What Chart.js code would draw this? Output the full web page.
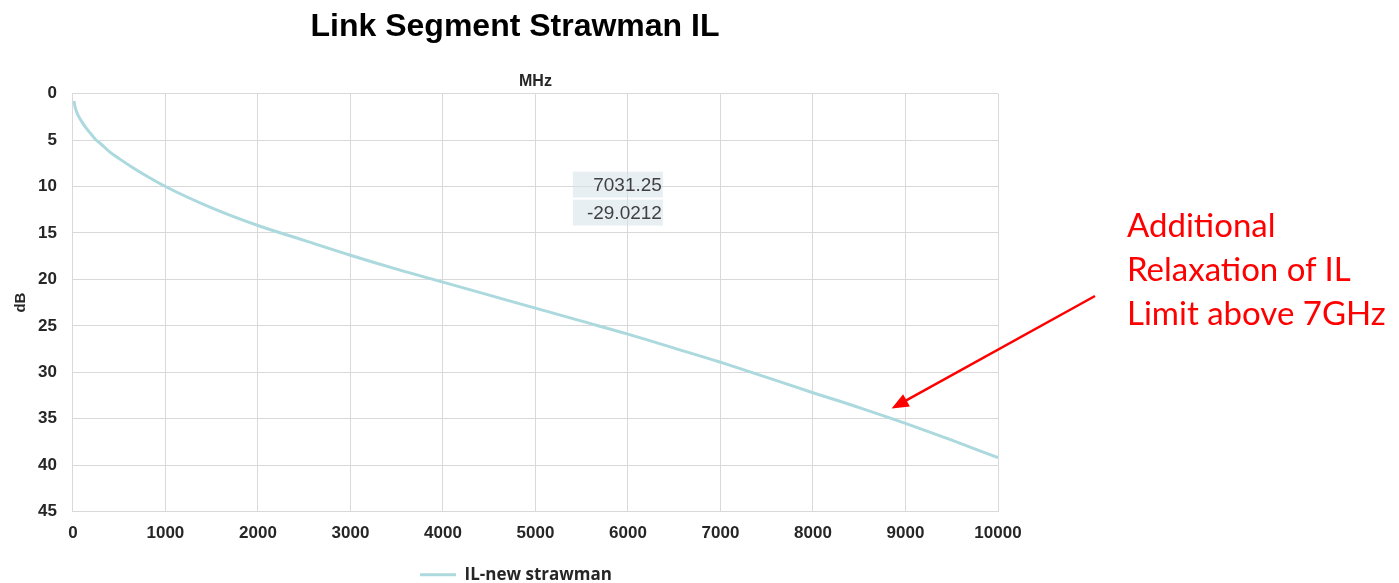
<!DOCTYPE html>
<html>
<head>
<meta charset="utf-8">
<script src="https://cdn.jsdelivr.net/npm/chart.js@4.4.0/dist/chart.umd.min.js"></script>
<style>
  html, body { margin: 0; padding: 0; background: #fff; }
  #wrap { position: relative; width: 1399px; height: 583px; }
  #note {
    position: absolute; left: 1127px; top: 202px;
    font-family: Lato, "Open Sans", sans-serif; font-size: 33px; line-height: 44px;
    color: #ff0000; white-space: nowrap;
  }
</style>
</head>
<body>
<div id="wrap">
  <canvas id="myChartIL" width="1399" height="583"></canvas>
  <div id="note">Additional<br>Relaxation of IL<br>Limit above 7GHz</div>
</div>
<script>
// IL curve (MHz, dB)
var freqMHz = [10, 25, 50, 100, 150, 200, 250, 300, 400, 500, 636, 750, 1000, 1500, 2000, 2500, 3000, 3500, 4000,
               4500, 5000, 5500, 6000, 6500, 7000, 7031.25, 7500, 8000, 8500, 9000, 9500, 10000];
var ilDb = [-0.8, -1.5, -2.2, -3.1, -3.8, -4.4, -5.0, -5.4, -6.3, -7.0, -7.9, -8.6, -10.0, -12.3, -14.2, -15.8, -17.4, -18.9, -20.3,
            -21.7, -23.1, -24.5, -25.9, -27.4, -28.92, -29.0212, -30.55, -32.2, -33.8, -35.5, -37.3, -39.2];
var seriesName = 'IL-new strawman';
var xTicks = [0, 1000, 2000, 3000, 4000, 5000, 6000, 7000, 8000, 9000, 10000];
var yTicks = [0, -5, -10, -15, -20, -25, -30, -35, -40, -45];
var readout = ['7031.25', '-29.0212'];

var points = [];
for (let i = 0; i < freqMHz.length; i++) {
  points.push({ x: freqMHz[i], y: ilDb[i] });
}

const gridCol = '#d9d9d9';
const txtCol = '#262626';
const lineCol = '#abd9dd';
const arial = '"Liberation Sans", Arial, sans-serif';

// move title + legend over the plot, draw the readout box and the arrow
const extras = {
  id: 'extras',
  afterLayout(chart) {
    const t = chart.titleBlock;
    const dt = 515 - (t.left + t.right) / 2;
    t.left += dt; t.right += dt;
    const l = chart.legend;
    const dl = 516 - (l.left + l.right) / 2;
    l.left += dl; l.right += dl;
    const dy = 574 - (l.top + 7.65);
    l.top += dy; l.bottom += dy;
  },
  afterDraw(chart) {
    const ctx = chart.ctx;
    const a = chart.chartArea;
    const xs = chart.scales.x, ys = chart.scales.y;
    ctx.save();
    // readout box
    const bx = a.left + 500, by = a.top + 78, bw = 90, bh = 26;
    ctx.fillStyle = 'rgba(214,226,234,0.55)';
    ctx.fillRect(bx, by, bw, bh);
    ctx.fillRect(bx, by + bh + 2, bw, bh);
    ctx.fillStyle = '#404040';
    ctx.font = '19px ' + arial;
    ctx.textAlign = 'right';
    ctx.textBaseline = 'middle';
    ctx.fillText(readout[0], bx + bw - 1, by + bh / 2 + 1);
    ctx.fillText(readout[1], bx + bw - 1, by + bh + 2 + bh / 2 + 1);
    // arrow
    const tx = xs.getPixelForValue(8850), ty = ys.getPixelForValue(-33.9);
    const sx = 1095, sy = 296;
    const ang = Math.atan2(ty - sy, tx - sx);
    const hl = 17, hw = 7;
    ctx.strokeStyle = '#ff0000';
    ctx.fillStyle = '#ff0000';
    ctx.lineWidth = 2.5;
    ctx.beginPath();
    ctx.moveTo(sx, sy);
    ctx.lineTo(tx - Math.cos(ang) * hl * 0.8, ty - Math.sin(ang) * hl * 0.8);
    ctx.stroke();
    ctx.beginPath();
    ctx.moveTo(tx, ty);
    ctx.lineTo(tx - Math.cos(ang) * hl - Math.sin(ang) * hw, ty - Math.sin(ang) * hl + Math.cos(ang) * hw);
    ctx.lineTo(tx - Math.cos(ang) * hl + Math.sin(ang) * hw, ty - Math.sin(ang) * hl - Math.cos(ang) * hw);
    ctx.closePath();
    ctx.fill();
    ctx.restore();
  }
};

const ctxIL = document.getElementById('myChartIL').getContext('2d');
const chartIL = new Chart(ctxIL, {
  type: 'line',
  data: {
    datasets: [{
      label: seriesName,
      data: points,
      borderColor: lineCol,
      backgroundColor: lineCol,
      borderWidth: 3,
      pointRadius: 0,
      fill: false,
      cubicInterpolationMode: 'monotone'
    }]
  },
  plugins: [extras],
  options: {
    responsive: false,
    animation: false,
    layout: { padding: { left: 9, right: 401, top: 0, bottom: 0 } },
    plugins: {
      tooltip: { enabled: false },
      title: {
        display: true,
        text: 'Link Segment Strawman IL',
        color: '#000',
        font: { family: arial, size: 32, weight: 'bold' },
        padding: { top: 8, bottom: 26 }
      },
      legend: {
        position: 'bottom',
        labels: {
          boxWidth: 36,
          boxHeight: 3,
          padding: 0,
          color: txtCol,
          font: { family: '"Open Sans", sans-serif', size: 17, weight: '700', lineHeight: 0.9 },
          generateLabels(chart) {
            return Chart.defaults.plugins.legend.labels.generateLabels(chart).map(function (it) {
              it.lineWidth = 0;
              return it;
            });
          }
        }
      }
    },
    scales: {
      x: {
        type: 'linear',
        min: 0,
        max: 10000,
        afterBuildTicks(s) { s.ticks = xTicks.map(v => ({ value: v })); },
        ticks: {
          color: txtCol,
          padding: 12,
          maxRotation: 0,
          font: { family: arial, size: 17, weight: 'bold' },
          callback: v => String(v)
        },
        grid: { color: gridCol, drawTicks: false },
        border: { color: gridCol }
      },
      x2: {
        type: 'linear',
        position: 'top',
        ticks: { display: false },
        grid: { display: false, drawTicks: false },
        border: { display: false },
        title: {
          display: true,
          text: 'MHz',
          color: txtCol,
          font: { family: arial, size: 16, weight: 'bold' },
          padding: { top: 0, bottom: 2 }
        }
      },
      y: {
        type: 'linear',
        min: -45,
        max: 0,
        afterBuildTicks(s) { s.ticks = yTicks.map(v => ({ value: v })); },
        ticks: {
          color: txtCol,
          padding: 16,
          font: { family: arial, size: 17, weight: 'bold' },
          callback: v => String(Math.abs(v))
        },
        grid: { color: gridCol, drawTicks: false },
        border: { color: gridCol },
        title: {
          display: true,
          text: 'dB',
          color: txtCol,
          font: { family: arial, size: 15, weight: 'bold' },
          padding: { top: 3, bottom: -8 }
        }
      }
    }
  }
});
</script>
</body>
</html>
